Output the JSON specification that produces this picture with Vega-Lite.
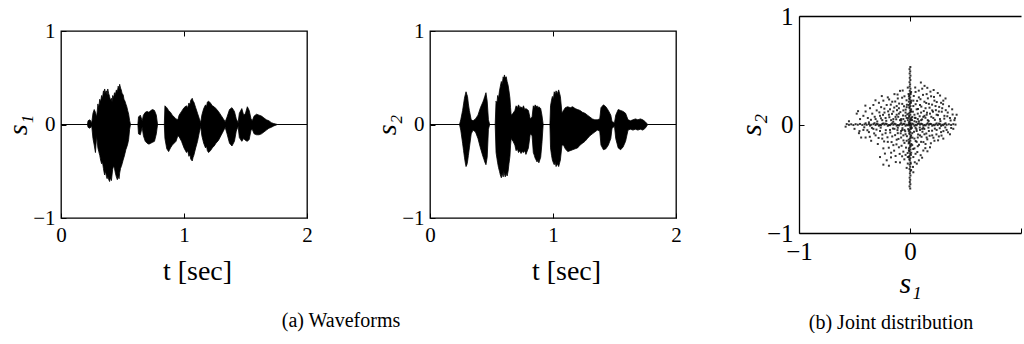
{
  "$schema": "https://vega.github.io/schema/vega-lite/v6.json",
  "background": "white",
  "padding": {"left": 4, "top": 4, "right": 0, "bottom": 0},
  "spacing": 123,
  "bounds": "flush",
  "center": true,
  "config": {
    "font": "Liberation Serif",
    "view": {"stroke": "black", "strokeWidth": 1.3},
    "axis": {"grid": false, "domain": false, "labelFont": "Liberation Serif", "labelFontSize": 21, "labelColor": "black", "tickColor": "black", "tickWidth": 1, "tickSize": -5, "labelPadding": 11, "titleFont": "Liberation Serif", "titleFontSize": 28, "titleFontWeight": "normal", "titleColor": "black", "titlePadding": 0},
    "title": {"font": "Liberation Serif", "fontSize": 20, "fontWeight": "normal", "color": "black"}
  },
  "datasets": {
    "s1": [
      {"t":0,"hi":0,"lo":0},{"t":0.215,"hi":0,"lo":0},{"t":0.22,"hi":0.04,"lo":-0.03},{"t":0.235,"hi":0.05,"lo":-0.04},{"t":0.25,"hi":0.02,"lo":-0.02},{"t":0.26,"hi":0.12,"lo":-0.15},{"t":0.27,"hi":0.16,"lo":-0.22},{"t":0.28,"hi":0.13,"lo":-0.30},{"t":0.29,"hi":0.08,"lo":-0.12},
      {"t":0.30,"hi":0.22,"lo":-0.25},{"t":0.307,"hi":0.18,"lo":-0.29},{"t":0.315,"hi":0.27,"lo":-0.33},{"t":0.322,"hi":0.24,"lo":-0.38},{"t":0.33,"hi":0.31,"lo":-0.42},{"t":0.337,"hi":0.28,"lo":-0.40},{"t":0.345,"hi":0.36,"lo":-0.47},{"t":0.35,"hi":0.33,"lo":-0.51},{"t":0.355,"hi":0.38,"lo":-0.54},{"t":0.362,"hi":0.34,"lo":-0.50},{"t":0.37,"hi":0.36,"lo":-0.56},{"t":0.375,"hi":0.31,"lo":-0.58},{"t":0.38,"hi":0.38,"lo":-0.55},{"t":0.388,"hi":0.33,"lo":-0.59},{"t":0.395,"hi":0.30,"lo":-0.61},{"t":0.402,"hi":0.26,"lo":-0.57},{"t":0.41,"hi":0.28,"lo":-0.60},{"t":0.415,"hi":0.24,"lo":-0.54},{"t":0.42,"hi":0.31,"lo":-0.48},{"t":0.428,"hi":0.29,"lo":-0.44},{"t":0.435,"hi":0.34,"lo":-0.47},{"t":0.442,"hi":0.32,"lo":-0.52},{"t":0.45,"hi":0.37,"lo":-0.56},{"t":0.458,"hi":0.35,"lo":-0.59},{"t":0.465,"hi":0.41,"lo":-0.55},{"t":0.472,"hi":0.38,"lo":-0.58},{"t":0.477,"hi":0.43,"lo":-0.52},{"t":0.484,"hi":0.39,"lo":-0.47},{"t":0.49,"hi":0.37,"lo":-0.45},{"t":0.497,"hi":0.33,"lo":-0.42},{"t":0.505,"hi":0.32,"lo":-0.38},{"t":0.512,"hi":0.27,"lo":-0.35},{"t":0.52,"hi":0.25,"lo":-0.31},{"t":0.527,"hi":0.22,"lo":-0.27},{"t":0.535,"hi":0.19,"lo":-0.24},{"t":0.542,"hi":0.15,"lo":-0.21},{"t":0.55,"hi":0.11,"lo":-0.16},{"t":0.558,"hi":0.04,"lo":-0.05},{"t":0.565,"hi":0,"lo":0},
      {"t":0.625,"hi":0,"lo":0},{"t":0.63,"hi":0.08,"lo":-0.10},{"t":0.645,"hi":0.10,"lo":-0.11},{"t":0.66,"hi":0.04,"lo":-0.03},{"t":0.67,"hi":0.10,"lo":-0.12},{"t":0.685,"hi":0.13,"lo":-0.18},{"t":0.70,"hi":0.14,"lo":-0.20},{"t":0.715,"hi":0.13,"lo":-0.21},{"t":0.73,"hi":0.15,"lo":-0.20},{"t":0.745,"hi":0.16,"lo":-0.19},{"t":0.76,"hi":0.15,"lo":-0.18},{"t":0.775,"hi":0.10,"lo":-0.10},{"t":0.785,"hi":0,"lo":0},
      {"t":0.84,"hi":0,"lo":0},{"t":0.845,"hi":0.20,"lo":-0.15},{"t":0.86,"hi":0.18,"lo":-0.26},{"t":0.875,"hi":0.15,"lo":-0.29},{"t":0.89,"hi":0.13,"lo":-0.25},{"t":0.905,"hi":0.10,"lo":-0.22},{"t":0.92,"hi":0.08,"lo":-0.20},{"t":0.935,"hi":0.06,"lo":-0.18},{"t":0.95,"hi":0.05,"lo":-0.12},{"t":0.96,"hi":0.10,"lo":-0.13},{"t":0.98,"hi":0.14,"lo":-0.18},{"t":1.00,"hi":0.18,"lo":-0.25},{"t":1.02,"hi":0.20,"lo":-0.30},{"t":1.03,"hi":0.18,"lo":-0.28},{"t":1.04,"hi":0.23,"lo":-0.34},{"t":1.048,"hi":0.21,"lo":-0.32},{"t":1.055,"hi":0.26,"lo":-0.37},{"t":1.067,"hi":0.28,"lo":-0.39},{"t":1.074,"hi":0.25,"lo":-0.35},{"t":1.08,"hi":0.24,"lo":-0.33},{"t":1.095,"hi":0.18,"lo":-0.25},{"t":1.11,"hi":0.12,"lo":-0.18},{"t":1.125,"hi":0.06,"lo":-0.08},{"t":1.136,"hi":0.02,"lo":-0.02},{"t":1.145,"hi":0.10,"lo":-0.12},{"t":1.16,"hi":0.17,"lo":-0.20},{"t":1.175,"hi":0.21,"lo":-0.25},{"t":1.183,"hi":0.19,"lo":-0.23},{"t":1.19,"hi":0.24,"lo":-0.28},{"t":1.20,"hi":0.25,"lo":-0.30},{"t":1.215,"hi":0.23,"lo":-0.28},{"t":1.23,"hi":0.20,"lo":-0.25},{"t":1.245,"hi":0.19,"lo":-0.23},{"t":1.26,"hi":0.17,"lo":-0.20},{"t":1.28,"hi":0.14,"lo":-0.17},{"t":1.30,"hi":0.10,"lo":-0.12},{"t":1.32,"hi":0.06,"lo":-0.07},{"t":1.335,"hi":0.03,"lo":-0.03},
      {"t":1.35,"hi":0.08,"lo":-0.10},{"t":1.37,"hi":0.16,"lo":-0.20},{"t":1.39,"hi":0.18,"lo":-0.23},{"t":1.41,"hi":0.14,"lo":-0.18},{"t":1.425,"hi":0.06,"lo":-0.07},{"t":1.44,"hi":0.02,"lo":-0.02},{"t":1.45,"hi":0.12,"lo":-0.14},{"t":1.47,"hi":0.17,"lo":-0.18},{"t":1.485,"hi":0.10,"lo":-0.15},{"t":1.50,"hi":0.12,"lo":-0.17},{"t":1.515,"hi":0.19,"lo":-0.18},{"t":1.53,"hi":0.15,"lo":-0.16},{"t":1.545,"hi":0.06,"lo":-0.06},{"t":1.555,"hi":0.04,"lo":-0.05},{"t":1.57,"hi":0.09,"lo":-0.10},{"t":1.59,"hi":0.11,"lo":-0.11},{"t":1.61,"hi":0.10,"lo":-0.11},{"t":1.63,"hi":0.09,"lo":-0.10},{"t":1.65,"hi":0.07,"lo":-0.08},{"t":1.67,"hi":0.05,"lo":-0.06},{"t":1.69,"hi":0.04,"lo":-0.04},{"t":1.71,"hi":0.02,"lo":-0.03},{"t":1.73,"hi":0.01,"lo":-0.015},{"t":1.76,"hi":0,"lo":0},{"t":2,"hi":0,"lo":0}
    ],
    "s2": [
      {"t":0,"hi":0,"lo":0},{"t":0.24,"hi":0,"lo":0},{"t":0.25,"hi":0.05,"lo":-0.06},{"t":0.265,"hi":0.15,"lo":-0.20},{"t":0.273,"hi":0.22,"lo":-0.28},{"t":0.28,"hi":0.28,"lo":-0.35},{"t":0.287,"hi":0.32,"lo":-0.41},{"t":0.293,"hi":0.35,"lo":-0.45},{"t":0.30,"hi":0.32,"lo":-0.43},{"t":0.305,"hi":0.30,"lo":-0.40},{"t":0.312,"hi":0.22,"lo":-0.33},{"t":0.32,"hi":0.15,"lo":-0.25},{"t":0.335,"hi":0.05,"lo":-0.10},{"t":0.35,"hi":0.04,"lo":-0.06},{"t":0.37,"hi":0.06,"lo":-0.08},{"t":0.39,"hi":0.10,"lo":-0.15},{"t":0.41,"hi":0.18,"lo":-0.25},{"t":0.43,"hi":0.24,"lo":-0.34},{"t":0.438,"hi":0.27,"lo":-0.37},{"t":0.445,"hi":0.30,"lo":-0.40},{"t":0.455,"hi":0.34,"lo":-0.43},{"t":0.465,"hi":0.25,"lo":-0.35},{"t":0.475,"hi":0.05,"lo":-0.05},{"t":0.485,"hi":0,"lo":0},
      {"t":0.53,"hi":0,"lo":0},{"t":0.537,"hi":0.25,"lo":-0.30},{"t":0.544,"hi":0.22,"lo":-0.36},{"t":0.55,"hi":0.31,"lo":-0.41},{"t":0.557,"hi":0.28,"lo":-0.46},{"t":0.565,"hi":0.36,"lo":-0.50},{"t":0.572,"hi":0.41,"lo":-0.54},{"t":0.58,"hi":0.46,"lo":-0.57},{"t":0.587,"hi":0.43,"lo":-0.52},{"t":0.595,"hi":0.51,"lo":-0.56},{"t":0.60,"hi":0.48,"lo":-0.50},{"t":0.605,"hi":0.53,"lo":-0.53},{"t":0.612,"hi":0.50,"lo":-0.56},{"t":0.62,"hi":0.51,"lo":-0.52},{"t":0.627,"hi":0.46,"lo":-0.55},{"t":0.635,"hi":0.42,"lo":-0.50},{"t":0.642,"hi":0.36,"lo":-0.42},{"t":0.65,"hi":0.28,"lo":-0.34},{"t":0.655,"hi":0.18,"lo":-0.22},{"t":0.66,"hi":0.10,"lo":-0.15},{"t":0.675,"hi":0.12,"lo":-0.18},{"t":0.69,"hi":0.15,"lo":-0.22},{"t":0.70,"hi":0.20,"lo":-0.28},{"t":0.71,"hi":0.18,"lo":-0.26},{"t":0.72,"hi":0.21,"lo":-0.30},{"t":0.73,"hi":0.18,"lo":-0.28},{"t":0.74,"hi":0.19,"lo":-0.31},{"t":0.75,"hi":0.17,"lo":-0.29},{"t":0.76,"hi":0.20,"lo":-0.30},{"t":0.77,"hi":0.16,"lo":-0.28},{"t":0.78,"hi":0.17,"lo":-0.32},{"t":0.80,"hi":0.15,"lo":-0.25},{"t":0.815,"hi":0.06,"lo":-0.10},{"t":0.83,"hi":0.08,"lo":-0.12},{"t":0.84,"hi":0.20,"lo":-0.30},{"t":0.848,"hi":0.18,"lo":-0.33},{"t":0.855,"hi":0.21,"lo":-0.36},{"t":0.863,"hi":0.19,"lo":-0.38},{"t":0.87,"hi":0.20,"lo":-0.40},{"t":0.878,"hi":0.18,"lo":-0.38},{"t":0.885,"hi":0.19,"lo":-0.41},{"t":0.90,"hi":0.17,"lo":-0.35},{"t":0.91,"hi":0.10,"lo":-0.20},{"t":0.92,"hi":0,"lo":0},
      {"t":0.975,"hi":0,"lo":0},{"t":0.98,"hi":0.20,"lo":-0.25},{"t":0.988,"hi":0.26,"lo":-0.33},{"t":0.995,"hi":0.30,"lo":-0.38},{"t":1.003,"hi":0.27,"lo":-0.41},{"t":1.01,"hi":0.35,"lo":-0.43},{"t":1.018,"hi":0.32,"lo":-0.40},{"t":1.025,"hi":0.36,"lo":-0.45},{"t":1.035,"hi":0.33,"lo":-0.42},{"t":1.046,"hi":0.37,"lo":-0.45},{"t":1.06,"hi":0.30,"lo":-0.38},{"t":1.073,"hi":0.12,"lo":-0.22},{"t":1.085,"hi":0.15,"lo":-0.22},{"t":1.10,"hi":0.18,"lo":-0.26},{"t":1.12,"hi":0.19,"lo":-0.29},{"t":1.14,"hi":0.18,"lo":-0.28},{"t":1.16,"hi":0.19,"lo":-0.27},{"t":1.18,"hi":0.17,"lo":-0.26},{"t":1.20,"hi":0.16,"lo":-0.25},{"t":1.22,"hi":0.15,"lo":-0.22},{"t":1.24,"hi":0.13,"lo":-0.20},{"t":1.26,"hi":0.12,"lo":-0.18},{"t":1.28,"hi":0.10,"lo":-0.15},{"t":1.30,"hi":0.08,"lo":-0.12},{"t":1.32,"hi":0.06,"lo":-0.10},{"t":1.34,"hi":0.05,"lo":-0.08},{"t":1.36,"hi":0.05,"lo":-0.06},{"t":1.38,"hi":0.06,"lo":-0.07},{"t":1.39,"hi":0.18,"lo":-0.22},{"t":1.41,"hi":0.21,"lo":-0.27},{"t":1.43,"hi":0.19,"lo":-0.26},{"t":1.45,"hi":0.15,"lo":-0.22},{"t":1.47,"hi":0.10,"lo":-0.15},{"t":1.48,"hi":0.03,"lo":-0.04},{"t":1.50,"hi":0.02,"lo":-0.02},{"t":1.51,"hi":0.10,"lo":-0.15},{"t":1.53,"hi":0.16,"lo":-0.25},{"t":1.55,"hi":0.15,"lo":-0.27},{"t":1.57,"hi":0.14,"lo":-0.24},{"t":1.59,"hi":0.12,"lo":-0.18},{"t":1.61,"hi":0.05,"lo":-0.06},{"t":1.63,"hi":0.04,"lo":-0.05},{"t":1.65,"hi":0.05,"lo":-0.06},{"t":1.67,"hi":0.06,"lo":-0.05},{"t":1.69,"hi":0.05,"lo":-0.06},{"t":1.71,"hi":0.06,"lo":-0.05},{"t":1.73,"hi":0.05,"lo":-0.06},{"t":1.75,"hi":0.03,"lo":-0.04},{"t":1.77,"hi":0,"lo":0},{"t":2,"hi":0,"lo":0}
    ],
    "joint": [
      {"x":-0.57,"y":0.004},{"x":-0.55,"y":-0.003},{"x":-0.53,"y":0.002},{"x":-0.51,"y":-0.005},{"x":-0.49,"y":0.003},{"x":-0.47,"y":-0.002},{"x":-0.45,"y":0.005},{"x":-0.43,"y":-0.004},{"x":-0.41,"y":0.001},{"x":-0.39,"y":-0.003},{"x":-0.37,"y":0.004},{"x":-0.35,"y":-0.002},{"x":-0.33,"y":0.003},{"x":-0.31,"y":-0.005},{"x":-0.29,"y":0.002},{"x":-0.27,"y":-0.003},{"x":-0.25,"y":0.005},{"x":-0.23,"y":-0.001},{"x":-0.21,"y":0.004},{"x":-0.19,"y":-0.004},{"x":-0.17,"y":0.002},{"x":-0.15,"y":-0.002},{"x":-0.13,"y":0.003},{"x":-0.11,"y":-0.005},{"x":-0.09,"y":0.001},{"x":-0.07,"y":-0.003},{"x":-0.05,"y":0.004},{"x":-0.03,"y":-0.002},{"x":-0.01,"y":0.003},{"x":0.01,"y":-0.004},{"x":0.03,"y":0.002},{"x":0.05,"y":-0.003},{"x":0.07,"y":0.005},{"x":0.09,"y":-0.001},{"x":0.11,"y":0.003},{"x":0.13,"y":-0.004},{"x":0.15,"y":0.002},{"x":0.17,"y":-0.002},{"x":0.19,"y":0.004},{"x":0.21,"y":-0.003},{"x":0.23,"y":0.001},{"x":0.25,"y":-0.005},{"x":0.27,"y":0.003},{"x":0.29,"y":-0.002},{"x":0.31,"y":0.004},{"x":0.33,"y":-0.003},{"x":0.35,"y":0.002},{"x":0.37,"y":-0.004},{"x":0.39,"y":0.003},{"x":0.41,"y":-0.001},
      {"x":-0.40,"y":0.011},{"x":-0.36,"y":-0.010},{"x":-0.32,"y":0.012},{"x":-0.28,"y":-0.011},{"x":-0.24,"y":0.010},{"x":-0.20,"y":-0.012},{"x":-0.16,"y":0.011},{"x":-0.12,"y":-0.010},{"x":-0.08,"y":0.012},{"x":-0.04,"y":-0.011},{"x":0.00,"y":0.010},{"x":0.04,"y":-0.012},{"x":0.08,"y":0.011},{"x":0.12,"y":-0.010},{"x":0.16,"y":0.012},{"x":0.20,"y":-0.011},{"x":0.24,"y":0.010},{"x":0.28,"y":-0.012},{"x":0.32,"y":0.011},
      {"x":-0.30,"y":0.006},{"x":-0.26,"y":-0.007},{"x":-0.22,"y":0.008},{"x":-0.18,"y":-0.006},{"x":-0.14,"y":0.007},{"x":-0.10,"y":-0.008},{"x":-0.06,"y":0.006},{"x":-0.02,"y":-0.007},{"x":0.02,"y":0.008},{"x":0.06,"y":-0.006},{"x":0.10,"y":0.007},{"x":0.14,"y":-0.008},{"x":0.18,"y":0.006},{"x":0.22,"y":-0.007},{"x":0.26,"y":0.008},{"x":0.30,"y":-0.006},
      {"x":0.003,"y":0.53},{"x":-0.004,"y":0.51},{"x":0.002,"y":0.49},{"x":-0.003,"y":0.47},{"x":0.004,"y":0.45},{"x":-0.002,"y":0.43},{"x":0.003,"y":0.41},{"x":-0.004,"y":0.39},{"x":0.001,"y":0.37},{"x":-0.003,"y":0.35},{"x":0.004,"y":0.33},{"x":-0.002,"y":0.31},{"x":0.003,"y":0.29},{"x":-0.005,"y":0.27},{"x":0.002,"y":0.25},{"x":-0.003,"y":0.23},{"x":0.005,"y":0.21},{"x":-0.001,"y":0.19},{"x":0.004,"y":0.17},{"x":-0.004,"y":0.15},{"x":0.002,"y":0.13},{"x":-0.002,"y":0.11},{"x":0.003,"y":0.09},{"x":-0.005,"y":0.07},{"x":0.001,"y":0.05},{"x":-0.003,"y":0.03},{"x":0.004,"y":0.01},{"x":-0.002,"y":-0.01},{"x":0.003,"y":-0.03},{"x":-0.004,"y":-0.05},{"x":0.002,"y":-0.07},{"x":-0.003,"y":-0.09},{"x":0.005,"y":-0.11},{"x":-0.001,"y":-0.13},{"x":0.003,"y":-0.15},{"x":-0.004,"y":-0.17},{"x":0.002,"y":-0.19},{"x":-0.002,"y":-0.21},{"x":0.004,"y":-0.23},{"x":-0.003,"y":-0.25},{"x":0.001,"y":-0.27},{"x":-0.005,"y":-0.29},{"x":0.003,"y":-0.31},{"x":-0.002,"y":-0.33},{"x":0.004,"y":-0.35},{"x":-0.003,"y":-0.37},{"x":0.002,"y":-0.39},{"x":-0.004,"y":-0.41},{"x":0.003,"y":-0.43},{"x":-0.001,"y":-0.45},{"x":0.004,"y":-0.47},{"x":-0.003,"y":-0.49},{"x":0.002,"y":-0.51},{"x":-0.002,"y":-0.53},{"x":0.003,"y":-0.55},{"x":-0.004,"y":-0.57},{"x":0.002,"y":-0.59},
      {"x":0.010,"y":0.30},{"x":-0.010,"y":0.26},{"x":0.011,"y":0.22},{"x":-0.011,"y":0.18},{"x":0.010,"y":0.14},{"x":-0.012,"y":0.10},{"x":0.012,"y":0.06},{"x":-0.010,"y":0.02},{"x":0.011,"y":-0.02},{"x":-0.011,"y":-0.06},{"x":0.010,"y":-0.10},{"x":-0.012,"y":-0.14},{"x":0.012,"y":-0.18},{"x":-0.010,"y":-0.22},{"x":0.011,"y":-0.26},{"x":-0.011,"y":-0.30},
      {"x":0.006,"y":0.28},{"x":-0.007,"y":0.24},{"x":0.008,"y":0.20},{"x":-0.006,"y":0.16},{"x":0.007,"y":0.12},{"x":-0.008,"y":0.08},{"x":0.006,"y":0.04},{"x":-0.007,"y":0.0},{"x":0.008,"y":-0.04},{"x":-0.006,"y":-0.08},{"x":0.007,"y":-0.12},{"x":-0.008,"y":-0.16},{"x":0.006,"y":-0.20},{"x":-0.007,"y":-0.24},{"x":0.008,"y":-0.28},{"x":-0.006,"y":-0.32},{"x":0.007,"y":-0.36},
      {"x":-0.45,"y":0.05},{"x":-0.42,"y":0.08},{"x":-0.40,"y":0.12},{"x":-0.38,"y":0.06},{"x":-0.36,"y":0.15},{"x":-0.34,"y":0.10},{"x":-0.33,"y":0.18},{"x":-0.31,"y":0.05},{"x":-0.30,"y":0.13},{"x":-0.28,"y":0.20},{"x":-0.27,"y":0.08},{"x":-0.26,"y":0.16},{"x":-0.25,"y":0.04},{"x":-0.24,"y":0.22},{"x":-0.23,"y":0.11},{"x":-0.22,"y":0.06},{"x":-0.21,"y":0.18},{"x":-0.20,"y":0.25},{"x":-0.19,"y":0.09},{"x":-0.18,"y":0.14},{"x":-0.17,"y":0.04},{"x":-0.16,"y":0.21},{"x":-0.15,"y":0.12},{"x":-0.14,"y":0.28},{"x":-0.13,"y":0.07},{"x":-0.12,"y":0.17},{"x":-0.11,"y":0.24},{"x":-0.10,"y":0.10},{"x":-0.09,"y":0.31},{"x":-0.08,"y":0.05},{"x":-0.07,"y":0.19},{"x":-0.06,"y":0.13},{"x":-0.05,"y":0.26},{"x":-0.04,"y":0.08},{"x":-0.03,"y":0.16},{"x":-0.02,"y":0.34},{"x":-0.02,"y":0.04},{"x":0.03,"y":0.22},{"x":0.04,"y":0.09},{"x":0.05,"y":0.30},{"x":0.06,"y":0.14},{"x":0.07,"y":0.05},{"x":0.08,"y":0.25},{"x":0.09,"y":0.18},{"x":0.10,"y":0.11},{"x":0.11,"y":0.33},{"x":0.12,"y":0.07},{"x":0.13,"y":0.21},{"x":0.14,"y":0.15},{"x":0.15,"y":0.28},{"x":0.16,"y":0.04},{"x":0.17,"y":0.19},{"x":0.18,"y":0.10},{"x":0.19,"y":0.26},{"x":0.20,"y":0.13},{"x":0.21,"y":0.06},{"x":0.22,"y":0.22},{"x":0.23,"y":0.17},{"x":0.24,"y":0.09},{"x":0.25,"y":0.29},{"x":0.26,"y":0.12},{"x":0.27,"y":0.05},{"x":0.28,"y":0.20},{"x":0.29,"y":0.15},{"x":0.31,"y":0.08},{"x":0.32,"y":0.24},{"x":0.34,"y":0.11},{"x":0.36,"y":0.06},{"x":0.38,"y":0.14},{"x":0.40,"y":0.04},{"x":0.42,"y":0.09},
      {"x":-0.06,"y":0.05},{"x":-0.04,"y":0.11},{"x":0.02,"y":0.07},{"x":0.04,"y":0.03},{"x":-0.09,"y":0.04},{"x":0.07,"y":0.10},{"x":0.10,"y":0.04},{"x":-0.12,"y":0.09},{"x":0.13,"y":0.08},{"x":-0.15,"y":0.05},{"x":0.05,"y":0.06},{"x":-0.03,"y":0.06},{"x":0.08,"y":0.03},{"x":-0.10,"y":0.15},{"x":0.15,"y":0.09},{"x":0.01,"y":0.12},{"x":0.03,"y":0.17},{"x":-0.01,"y":0.21},
      {"x":-0.37,"y":0.02},{"x":-0.352,"y":0.043},{"x":-0.318,"y":0.071},{"x":-0.295,"y":0.028},{"x":-0.276,"y":0.112},{"x":-0.262,"y":0.057},{"x":-0.243,"y":0.089},{"x":-0.231,"y":0.146},{"x":-0.214,"y":0.034},{"x":-0.197,"y":0.121},{"x":-0.186,"y":0.067},{"x":-0.173,"y":0.183},{"x":-0.162,"y":0.098},{"x":-0.151,"y":0.026},{"x":-0.142,"y":0.156},{"x":-0.133,"y":0.212},{"x":-0.124,"y":0.048},{"x":-0.117,"y":0.132},{"x":-0.106,"y":0.071},{"x":-0.098,"y":0.193},{"x":-0.087,"y":0.114},{"x":-0.079,"y":0.036},{"x":-0.071,"y":0.247},{"x":-0.063,"y":0.083},{"x":-0.054,"y":0.168},{"x":-0.046,"y":0.029},{"x":-0.039,"y":0.137},{"x":-0.031,"y":0.223},{"x":-0.024,"y":0.094},{"x":-0.017,"y":0.059},{"x":-0.013,"y":0.281},{"x":-0.028,"y":0.182},{"x":-0.066,"y":0.313},{"x":-0.112,"y":0.276},{"x":-0.188,"y":0.231},{"x":-0.254,"y":0.262},{"x":-0.311,"y":0.223},{"x":-0.402,"y":0.174},{"x":-0.468,"y":0.123},
      {"x":0.018,"y":0.041},{"x":0.026,"y":0.118},{"x":0.034,"y":0.263},{"x":0.043,"y":0.062},{"x":0.051,"y":0.187},{"x":0.058,"y":0.024},{"x":0.064,"y":0.218},{"x":0.072,"y":0.143},{"x":0.079,"y":0.312},{"x":0.087,"y":0.076},{"x":0.094,"y":0.233},{"x":0.102,"y":0.165},{"x":0.109,"y":0.047},{"x":0.117,"y":0.273},{"x":0.124,"y":0.124},{"x":0.131,"y":0.356},{"x":0.139,"y":0.062},{"x":0.146,"y":0.198},{"x":0.153,"y":0.109},{"x":0.161,"y":0.241},{"x":0.168,"y":0.032},{"x":0.176,"y":0.155},{"x":0.184,"y":0.303},{"x":0.192,"y":0.071},{"x":0.199,"y":0.183},{"x":0.207,"y":0.118},{"x":0.216,"y":0.254},{"x":0.224,"y":0.043},{"x":0.233,"y":0.132},{"x":0.241,"y":0.207},{"x":0.252,"y":0.086},{"x":0.263,"y":0.162},{"x":0.274,"y":0.031},{"x":0.286,"y":0.118},{"x":0.298,"y":0.187},{"x":0.309,"y":0.054},{"x":0.322,"y":0.132},{"x":0.336,"y":0.076},{"x":0.351,"y":0.168},{"x":0.366,"y":0.037},{"x":0.384,"y":0.092},{"x":0.405,"y":0.058},{"x":0.047,"y":0.341},{"x":0.098,"y":0.387},{"x":0.156,"y":0.338},{"x":0.213,"y":0.318},{"x":0.271,"y":0.267},
      {"x":-0.50,"y":-0.04},{"x":-0.46,"y":-0.08},{"x":-0.42,"y":-0.05},{"x":-0.40,"y":-0.12},{"x":-0.37,"y":-0.07},{"x":-0.35,"y":-0.15},{"x":-0.33,"y":-0.04},{"x":-0.31,"y":-0.10},{"x":-0.29,"y":-0.18},{"x":-0.27,"y":-0.06},{"x":-0.25,"y":-0.13},{"x":-0.24,"y":-0.22},{"x":-0.22,"y":-0.08},{"x":-0.21,"y":-0.33},{"x":-0.20,"y":-0.16},{"x":-0.19,"y":-0.38},{"x":-0.18,"y":-0.05},{"x":-0.17,"y":-0.26},{"x":-0.16,"y":-0.11},{"x":-0.15,"y":-0.19},{"x":-0.14,"y":-0.04},{"x":-0.13,"y":-0.29},{"x":-0.12,"y":-0.14},{"x":-0.11,"y":-0.08},{"x":-0.10,"y":-0.21},{"x":-0.09,"y":-0.35},{"x":-0.08,"y":-0.12},{"x":-0.07,"y":-0.05},{"x":-0.06,"y":-0.25},{"x":-0.05,"y":-0.17},{"x":-0.04,"y":-0.09},{"x":-0.03,"y":-0.40},{"x":-0.02,"y":-0.30},{"x":0.03,"y":-0.44},{"x":0.04,"y":-0.13},{"x":0.05,"y":-0.27},{"x":0.06,"y":-0.06},{"x":0.07,"y":-0.20},{"x":0.08,"y":-0.33},{"x":0.09,"y":-0.10},{"x":0.10,"y":-0.16},{"x":0.11,"y":-0.04},{"x":0.12,"y":-0.24},{"x":0.13,"y":-0.09},{"x":0.14,"y":-0.18},{"x":0.15,"y":-0.12},{"x":0.17,"y":-0.06},{"x":0.18,"y":-0.21},{"x":0.20,"y":-0.10},{"x":0.22,"y":-0.15},{"x":0.24,"y":-0.05},{"x":0.26,"y":-0.11},{"x":0.28,"y":-0.07},{"x":0.30,"y":-0.13},{"x":0.33,"y":-0.05},{"x":0.36,"y":-0.09},{"x":0.39,"y":-0.04},
      {"x":-0.05,"y":-0.05},{"x":0.02,"y":-0.08},{"x":0.05,"y":-0.03},{"x":-0.08,"y":-0.06},{"x":0.07,"y":-0.12},{"x":-0.03,"y":-0.15},{"x":0.02,"y":-0.19},{"x":-0.01,"y":-0.24},{"x":0.03,"y":-0.30},{"x":-0.02,"y":-0.36},{"x":0.01,"y":-0.42},{"x":0.04,"y":-0.22},{"x":-0.04,"y":-0.28},{"x":0.06,"y":-0.16},{"x":-0.06,"y":-0.10},{"x":0.09,"y":-0.05},{"x":-0.11,"y":-0.03},{"x":0.12,"y":-0.03},
      {"x":-0.412,"y":-0.026},{"x":-0.384,"y":-0.053},{"x":-0.343,"y":-0.031},{"x":-0.323,"y":-0.082},{"x":-0.302,"y":-0.047},{"x":-0.283,"y":-0.124},{"x":-0.264,"y":-0.029},{"x":-0.249,"y":-0.093},{"x":-0.233,"y":-0.156},{"x":-0.218,"y":-0.052},{"x":-0.203,"y":-0.118},{"x":-0.191,"y":-0.214},{"x":-0.178,"y":-0.074},{"x":-0.166,"y":-0.162},{"x":-0.154,"y":-0.037},{"x":-0.143,"y":-0.241},{"x":-0.134,"y":-0.098},{"x":-0.122,"y":-0.183},{"x":-0.113,"y":-0.052},{"x":-0.104,"y":-0.133},{"x":-0.093,"y":-0.271},{"x":-0.084,"y":-0.081},{"x":-0.076,"y":-0.196},{"x":-0.068,"y":-0.034},{"x":-0.059,"y":-0.147},{"x":-0.051,"y":-0.321},{"x":-0.043,"y":-0.062},{"x":-0.036,"y":-0.213},{"x":-0.028,"y":-0.108},{"x":-0.021,"y":-0.263},{"x":-0.016,"y":-0.042},{"x":-0.012,"y":-0.174},{"x":-0.071,"y":-0.293},{"x":-0.128,"y":-0.346},{"x":-0.171,"y":-0.303},{"x":-0.226,"y":-0.268},{"x":-0.362,"y":-0.113},{"x":-0.455,"y":-0.061},
      {"x":0.016,"y":-0.032},{"x":0.022,"y":-0.121},{"x":0.029,"y":-0.226},{"x":0.036,"y":-0.067},{"x":0.043,"y":-0.348},{"x":0.051,"y":-0.152},{"x":0.058,"y":-0.043},{"x":0.066,"y":-0.254},{"x":0.073,"y":-0.092},{"x":0.081,"y":-0.187},{"x":0.088,"y":-0.028},{"x":0.096,"y":-0.283},{"x":0.104,"y":-0.113},{"x":0.112,"y":-0.067},{"x":0.121,"y":-0.162},{"x":0.129,"y":-0.041},{"x":0.138,"y":-0.218},{"x":0.147,"y":-0.083},{"x":0.156,"y":-0.137},{"x":0.166,"y":-0.029},{"x":0.177,"y":-0.104},{"x":0.188,"y":-0.173},{"x":0.199,"y":-0.057},{"x":0.211,"y":-0.122},{"x":0.224,"y":-0.038},{"x":0.238,"y":-0.091},{"x":0.253,"y":-0.146},{"x":0.268,"y":-0.034},{"x":0.284,"y":-0.102},{"x":0.301,"y":-0.061},{"x":0.318,"y":-0.027},{"x":0.342,"y":-0.072},{"x":0.371,"y":-0.032},{"x":0.027,"y":-0.391},{"x":0.061,"y":-0.361},{"x":0.109,"y":-0.306},{"x":0.157,"y":-0.247},
      {"x":-0.55,"y":0.03},{"x":-0.58,"y":-0.02},{"x":-0.48,"y":0.10},{"x":-0.44,"y":-0.12},{"x":-0.27,"y":-0.30},{"x":-0.24,"y":-0.37},{"x":0.30,"y":0.22}
    ]
  },
  "hconcat": [
    {
      "width": 246, "height": 187,
      "title": {"text": "(a) Waveforms", "orient": "bottom", "anchor": "middle", "dx": 157, "offset": 26},
      "data": {"name": "s1"},
      "resolve": {"axis": {"x": "independent"}},
      "layer": [
        {"mark": {"type": "rule", "color": "#555", "strokeWidth": 1}, "encoding": {"y": {"datum": 0, "type": "quantitative"}}},
        {"mark": {"type": "area", "color": "black", "interpolate": "linear", "stroke": "black", "strokeWidth": 0.8},
         "encoding": {
           "x": {"field": "t", "type": "quantitative", "scale": {"domain": [0, 2], "nice": false}, "axis": {"tickCount": 3, "format": "d", "title": "t [sec]", "labelOverlap": false, "labelFlush": false, "titlePadding": 12, "titleX": 136}},
           "y": {"field": "hi", "type": "quantitative", "scale": {"domain": [-1, 1], "nice": false}, "axis": {"tickCount": 3, "format": "d", "title": "s₁", "titleFontStyle": "italic", "labelOverlap": false}},
           "y2": {"field": "lo"}
         }},
        {"mark": {"type": "point", "opacity": 0},
         "encoding": {
           "x": {"field": "t", "type": "quantitative", "scale": {"domain": [0, 2], "nice": false}, "axis": {"orient": "top", "values": [1], "labels": false, "title": null}},
           "y": {"field": "hi", "type": "quantitative"}
         }}
      ]
    },
    {
      "width": 246, "height": 187,
      "data": {"name": "s2"},
      "resolve": {"axis": {"x": "independent"}},
      "layer": [
        {"mark": {"type": "rule", "color": "#555", "strokeWidth": 1}, "encoding": {"y": {"datum": 0, "type": "quantitative"}}},
        {"mark": {"type": "area", "color": "black", "interpolate": "linear", "stroke": "black", "strokeWidth": 0.8},
         "encoding": {
           "x": {"field": "t", "type": "quantitative", "scale": {"domain": [0, 2], "nice": false}, "axis": {"tickCount": 3, "format": "d", "title": "t [sec]", "labelOverlap": false, "labelFlush": false, "titlePadding": 12, "titleX": 136}},
           "y": {"field": "hi", "type": "quantitative", "scale": {"domain": [-1, 1], "nice": false}, "axis": {"tickCount": 3, "format": "d", "title": "s₂", "titleFontStyle": "italic", "labelOverlap": false}},
           "y2": {"field": "lo"}
         }},
        {"mark": {"type": "point", "opacity": 0},
         "encoding": {
           "x": {"field": "t", "type": "quantitative", "scale": {"domain": [0, 2], "nice": false}, "axis": {"orient": "top", "values": [1], "labels": false, "title": null}},
           "y": {"field": "hi", "type": "quantitative"}
         }}
      ]
    },
    {
      "width": 222, "height": 217,
      "view": {"stroke": null},
      "title": {"text": "(b) Joint distribution", "orient": "bottom", "anchor": "middle", "dx": -19, "offset": 15},
      "data": {"name": "joint"},
      "resolve": {"axis": {"x": "independent"}},
      "layer": [
        {"mark": {"type": "point", "shape": "square", "filled": true, "size": 4, "color": "#111", "opacity": 0.85},
         "encoding": {
           "x": {"field": "x", "type": "quantitative", "scale": {"domain": [-1, 1], "nice": false}, "axis": {"tickCount": 3, "format": "d", "labelExpr": "datum.value == 1 ? '' : datum.label", "title": "s₁", "titleFontStyle": "italic", "labelFontSize": 25, "titleFontSize": 30, "titlePadding": 4, "labelOverlap": false, "labelFlush": false, "domain": true, "domainColor": "black", "domainWidth": 1.3}},
           "y": {"field": "y", "type": "quantitative", "scale": {"domain": [-1, 1], "nice": false}, "axis": {"tickCount": 3, "format": "d", "title": "s₂", "titleFontStyle": "italic", "labelFontSize": 25, "titleFontSize": 30, "labelOverlap": false, "domain": true, "domainColor": "black", "domainWidth": 1.3}}
         }},
        {"mark": {"type": "point", "opacity": 0},
         "encoding": {
           "x": {"field": "x", "type": "quantitative", "scale": {"domain": [-1, 1], "nice": false}, "axis": {"orient": "top", "values": [0], "labels": false, "title": null, "domain": true, "domainColor": "black", "domainWidth": 1.3}},
           "y": {"field": "y", "type": "quantitative"}
         }}
      ]
    }
  ]
}
